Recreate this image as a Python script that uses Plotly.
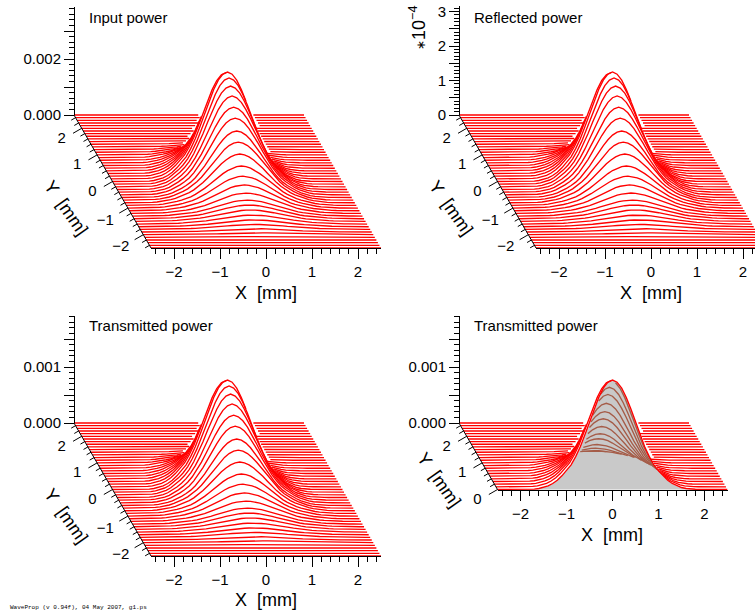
import numpy as np
import plotly.graph_objects as go

W, H = 755, 614

# ---- data ----
x_mm = [round(-2.5 + 0.1 * i, 1) for i in range(51)]
# relative beam height along X (from -2.5 to 2.5 mm)
x_profile = [0, 0, 0, 0, 0, 0, 0.001, 0.002, 0.004, 0.009, 0.018, 0.033, 0.055, 0.085, 0.125, 0.17,
             0.225, 0.3, 0.39, 0.5, 0.618, 0.735, 0.84, 0.926, 0.98,
             1.0,
             0.98, 0.926, 0.84, 0.735, 0.618, 0.5, 0.39, 0.3, 0.225,
             0.17, 0.125, 0.085, 0.055, 0.033, 0.018, 0.009, 0.004, 0.002, 0.001, 0, 0, 0, 0, 0, 0]
# relative beam height along Y (from -2.5 to 2.5 mm, front row first)
y_mm = [round(-2.5 + 0.1 * i, 1) for i in range(51)]
y_profile = [0, 0, 0, 0.003, 0.008, 0.017, 0.03, 0.045, 0.062, 0.082, 0.104, 0.125, 0.146, 0.186, 0.236,
             0.292, 0.36, 0.445, 0.53, 0.607, 0.70, 0.776, 0.854, 0.92, 0.97,
             1.0,
             0.97, 0.885, 0.795, 0.69, 0.59, 0.50, 0.405, 0.315, 0.245, 0.168,
             0.11, 0.064, 0.035, 0.02, 0.01, 0.005, 0, 0, 0, 0, 0, 0, 0, 0, 0]
# how much wider than x_profile each row's bump looks (front rows are broader)
row_width = [1.4, 1.4, 1.4, 1.4, 1.4, 1.4, 1.4, 1.4, 1.38, 1.36, 1.34, 1.32, 1.3, 1.28, 1.26,
             1.24, 1.21, 1.18, 1.15, 1.12, 1.1, 1.08, 1.06, 1.04, 1.02,
             1.0,
             1.0, 1.0, 1.0, 1.0, 1.0, 1.0, 1.0, 1.0, 1.0, 1.0,
             1.0, 1.0, 1.0, 1.0, 1.0, 1.0, 1.0, 1.0, 1.0, 1.0, 1.0, 1.0, 1.0, 1.0, 1.0]

panel_titles = ["Input power", "Reflected power", "Transmitted power", "Transmitted power"]
peak_power = [0.00391, 3.174e-4, 0.001955, 0.001955]
z_per_px = [1 / 28000, 1 / 345000, 1 / 56000, 1 / 56000]
z_tick_vals = [[0, 0.001, 0.002, 0.003], [i * 0.5e-4 for i in range(7)],
               [0, 0.0005, 0.001, 0.0015], [0, 0.0005, 0.001, 0.0015]]
z_tick_text = [["0.000", "", "0.002", ""], ["0", "", "1", "", "2", "", "3"],
               ["0.000", "", "0.001", ""], ["0.000", "", "0.001", ""]]
z_minor = [0.0002, 0.1e-4, 0.0001, 0.0001]
x_ticks = [-2, -1, 0, 1, 2]
x_tick_text = ["\u22122", "\u22121", "0", "1", "2"]
y_ticks = [[-2, -1, 0, 1, 2]] * 3 + [[0, 1, 2]]
y_minor = [round(-2.4 + 0.2 * i, 1) for i in range(25)]

# origin: pixel position of the rear-left corner (power 0)
origin_x = [74, 459, 74, 459]
origin_y = [115, 115, 423, 423]
axis_top = [7, 6, 316, 316]
front_Y = [-2.5, -2.5, -2.5, 0.0]
xlabel_px = [(266, 293), (651, 293), (266, 600), (612, 535)]
PX_MM = 46.0
RISE = 26.6      # px of screen height per mm of Y
SHEAR = 15.4 / 46.0
PAD_LEFT, PAD_BOTTOM = 45, 25

RED = "rgb(255,0,0)"
BROWN = "rgb(165,92,72)"
GRAY = "rgb(201,201,201)"
FONT = "Liberation Sans"
LW = 1.35

fig = go.Figure()
layout = {}


def px_x(v):
    return v / W


def px_y(v):
    return 1 - v / H


def ax(n, letter):
    return f"{letter}axis{'' if n == 1 else n}"


def ref(n, letter):
    return f"{letter}{'' if n == 1 else n}"


def add_runs(mask, sx, su, out_x, out_y):
    """Append the row's stretches whose consecutive points are both visible."""
    i, n = 0, len(sx)
    while i < n - 1:
        if mask[i] and mask[i + 1]:
            j = i + 1
            while j < n - 1 and mask[j + 1]:
                j += 1
            out_x += list(sx[i:j + 1]) + [None]
            out_y += list(su[i:j + 1]) + [None]
            i = j
        else:
            i += 1


annotations = []
xg = np.array(x_mm)
xp = np.array(x_profile)
yg = np.array(y_mm)
yp = np.array(y_profile)
rw = np.array(row_width)

for p in range(4):
    ox, oy, fy = origin_x[p], origin_y[p], front_Y[p]
    zpx = z_per_px[p]
    front_px = oy + RISE * (2.5 - fy)
    x0_tick = ox + (2.5 - fy) * SHEAR * PX_MM
    right_px = min(x0_tick + 5 * PX_MM, W)
    x_right = -2.5 + (right_px - x0_tick) / PX_MM
    # main hidden axes: x in screen mm, y in power units with oblique lift
    n_main = 2 * p + 1
    n_tick = 2 * p + 2
    xr0 = -2.5 - (2.5 - fy) * SHEAR
    yr0 = -(front_px - oy) * zpx
    yr1 = (oy - axis_top[p]) * zpx
    layout[ax(n_main, "x")] = dict(domain=[px_x(ox - PAD_LEFT), px_x(right_px)],
                                   range=[xr0 - PAD_LEFT / PX_MM, x_right], visible=False,
                                   anchor=ref(n_main, "y"))
    layout[ax(n_main, "y")] = dict(domain=[px_y(front_px + PAD_BOTTOM), px_y(axis_top[p])],
                                   range=[yr0 - PAD_BOTTOM * zpx, yr1], visible=False,
                                   anchor=ref(n_main, "x"))
    # tick axes
    layout[ax(n_tick, "x")] = dict(
        domain=[px_x(x0_tick), px_x(right_px)], range=[-2.5, x_right], anchor="free", position=px_y(front_px),
        side="bottom", showgrid=False, zeroline=False, showline=True, linecolor="black", linewidth=1,
        automargin=False,
        ticks="outside", ticklen=10, tickcolor="black", tickwidth=1, tickvals=x_ticks, ticktext=x_tick_text,
        tickfont=dict(family=FONT, size=15, color="black"),
        minor=dict(ticks="outside", ticklen=5, tickcolor="black", tickwidth=1, dtick=0.2, tick0=-2.4, showgrid=False))
    top_val = (oy - axis_top[p]) * zpx
    layout[ax(n_tick, "y")] = dict(
        domain=[px_y(oy), px_y(axis_top[p])], range=[0, top_val], anchor="free", position=px_x(ox),
        side="left", showgrid=False, zeroline=False, showline=True, linecolor="black", linewidth=1,
        automargin=False,
        ticks="outside", ticklen=10, tickcolor="black", tickwidth=1, tickvals=z_tick_vals[p], ticktext=z_tick_text[p],
        tickfont=dict(family=FONT, size=15, color="black"),
        minor=dict(ticks="outside", ticklen=5, tickcolor="black", tickwidth=1, dtick=z_minor[p], tick0=0, showgrid=False))

    rows = [(y, a, w) for y, a, w in zip(yg, yp, rw) if y >= fy - 1e-9]

    # floating horizon, front row first
    grid = np.arange(xr0 - 0.2, 2.7, 0.01)
    top = np.full(grid.shape, -1.0)
    bot = np.full(grid.shape, 1.0)
    red_x, red_y, brown_x, brown_y = [], [], [], []
    for y, a, w in rows:
        sx = xg - (y - fy) * SHEAR
        su = peak_power[p] * np.interp(xg / w, xg, xp) * a + (y - 2.5) * RISE * zpx
        above = su > np.interp(sx, grid, top)
        below = su < np.interp(sx, grid, bot)
        add_runs(above, sx, su, red_x, red_y)
        if p == 3:
            add_runs(below & ~above, sx, su, brown_x, brown_y)
        row_on_grid = np.interp(grid, sx, su, left=np.nan, right=np.nan)
        m = ~np.isnan(row_on_grid)
        top[m] = np.maximum(top[m], row_on_grid[m])
        bot[m] = np.minimum(bot[m], row_on_grid[m])

    xa, ya = ref(n_main, "x"), ref(n_main, "y")
    if p == 3:
        a0 = yp[list(yg).index(0.0)]
        base = (fy - 2.5) * RISE * zpx
        fig.add_trace(go.Scatter(x=list(xg), y=list(peak_power[p] * xp * a0 + base), mode="none", fill="toself",
                                 fillcolor=GRAY, hoverinfo="skip", showlegend=False, xaxis=xa, yaxis=ya))
        fig.add_trace(go.Scatter(x=brown_x, y=brown_y, mode="lines", line=dict(color=BROWN, width=LW),
                                 hoverinfo="skip", showlegend=False, xaxis=xa, yaxis=ya))
    fig.add_trace(go.Scatter(x=red_x, y=red_y, mode="lines", line=dict(color=RED, width=LW),
                             hoverinfo="skip", showlegend=False, xaxis=xa, yaxis=ya))

    # oblique Y axis
    def to_screen(y):
        return -2.5 - (y - fy) * SHEAR, (y - 2.5) * RISE * zpx

    ax_x0, ax_y0 = to_screen(fy)
    ax_x1, ax_y1 = to_screen(2.5)
    lx, ly = [ax_x0, ax_x1, None], [ax_y0, ax_y1, None]
    nx, ny = -0.866 / PX_MM, -0.5 * zpx
    for v in y_minor:
        if v < fy or v > 2.5:
            continue
        sx0, sy0 = to_screen(v)
        ln = 10 if abs(v - round(v)) < 1e-6 else 5
        lx += [sx0, sx0 + nx * ln, None]
        ly += [sy0, sy0 + ny * ln, None]
    fig.add_trace(go.Scatter(x=lx, y=ly, mode="lines", line=dict(color="black", width=1), cliponaxis=False,
                             hoverinfo="skip", showlegend=False, xaxis=xa, yaxis=ya))
    tx, ty, tt = [], [], []
    for v in y_ticks[p]:
        sx0, sy0 = to_screen(v)
        off = 22.5 if v < 0 else 20
        drop = 13 if v < 0 else 10.5
        tx.append(sx0 - off / PX_MM)
        ty.append(sy0 - drop * zpx)
        tt.append(str(v).replace("-", "\u2212"))
    fig.add_trace(go.Scatter(x=tx, y=ty, text=tt, mode="text", textposition="middle center", cliponaxis=False,
                             textfont=dict(family=FONT, size=15, color="black"),
                             hoverinfo="skip", showlegend=False, xaxis=xa, yaxis=ya))
    # dummy trace that brings the tick axes to life
    fig.add_trace(go.Scatter(x=[None], y=[None], mode="lines", hoverinfo="skip", showlegend=False,
                             xaxis=ref(n_tick, "x"), yaxis=ref(n_tick, "y")))

    annotations.append(dict(text=panel_titles[p], x=px_x(ox + 13), y=px_y(oy - 98), xref="paper", yref="paper",
                            xanchor="left", yanchor="middle", showarrow=False,
                            font=dict(family=FONT, size=15, color="black")))
    ylab_px = (ox - 8, oy + 93) if p < 3 else (ox - 20, oy + 57)
    annotations.append(dict(text="Y\u00a0\u00a0[mm]", x=px_x(ylab_px[0]), y=px_y(ylab_px[1]), xref="paper", yref="paper",
                            xanchor="center", yanchor="middle", showarrow=False, textangle=55,
                            font=dict(family=FONT, size=18, color="black")))
    annotations.append(dict(text="X\u00a0\u00a0[mm]", x=px_x(xlabel_px[p][0]), y=px_y(xlabel_px[p][1]), xref="paper",
                            yref="paper", xanchor="center", yanchor="middle", showarrow=False,
                            font=dict(family=FONT, size=18, color="black")))

annotations.append(dict(text="<span style='font-size:12px'>\u2217</span>10<sup>\u22124</sup>", x=px_x(417), y=px_y(28),
                        xref="paper", yref="paper", xanchor="center", yanchor="middle", showarrow=False, textangle=-90,
                        font=dict(family=FONT, size=18, color="black")))
annotations.append(dict(text="WaveProp (v 0.94f), 04 May 2007, g1.ps", x=px_x(8), y=px_y(607), xref="paper", yref="paper",
                        xanchor="left", yanchor="middle", showarrow=False,
                        font=dict(family="Liberation Mono", size=6, color="black")))

fig.update_layout(width=W, height=H, margin=dict(l=0, r=0, t=0, b=0), paper_bgcolor="white",
                  plot_bgcolor="rgba(0,0,0,0)", showlegend=False, annotations=annotations, **layout)
fig.write_html("out.html", post_script="document.body.style.margin='0';", config=dict(displayModeBar=False))
